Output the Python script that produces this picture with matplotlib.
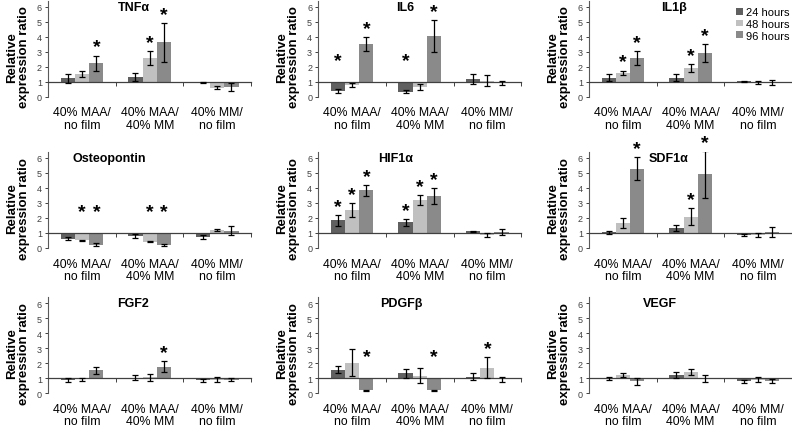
import matplotlib
matplotlib.use("Agg")
import matplotlib.pyplot as plt
import matplotlib.transforms as mtransforms
import numpy as np

plt.rcParams['font.family'] = ['Liberation Sans', 'DejaVu Sans']

groups = ["40% MAA/\nno film", "40% MAA/\n40% MM", "40% MM/\nno film"]
times = ["24 hours", "48 hours", "96 hours"]
colors = ["#606060", "#c0c0c0", "#8a8a8a"]

# rows = 24h, 48h, 96h ; columns = the three groups
tnfa_mean = [[1.24, 1.33, 0.95], [1.50, 2.58, 0.60], [2.25, 3.64, 0.65]]
tnfa_err = [[0.30, 0.27, 0.05], [0.20, 0.47, 0.10], [0.50, 1.30, 0.25]]
tnfa_star = [[0, 0, 0], [0, 1, 0], [1, 1, 0]]

il6_mean = [[0.40, 0.33, 1.20], [0.77, 0.66, 1.08], [3.51, 4.06, 0.92]]
il6_err = [[0.13, 0.10, 0.32], [0.15, 0.22, 0.36], [0.45, 1.08, 0.15]]
il6_star = [[1, 1, 0], [0, 0, 0], [1, 1, 0]]

il1b_mean = [[1.27, 1.27, 1.03], [1.60, 1.93, 0.93], [2.60, 2.93, 0.95]]
il1b_err = [[0.22, 0.22, 0.05], [0.15, 0.27, 0.10], [0.47, 0.60, 0.15]]
il1b_star = [[0, 0, 0], [1, 1, 0], [1, 1, 0]]

opn_mean = [[0.60, 0.78, 0.75], [0.52, 0.42, 1.20], [0.22, 0.20, 1.15]]
opn_err = [[0.10, 0.15, 0.13], [0.03, 0.03, 0.05], [0.08, 0.06, 0.28]]
opn_star = [[0, 0, 0], [1, 1, 0], [1, 1, 0]]

hif1a_mean = [[1.85, 1.70, 1.10], [2.52, 3.18, 0.85], [3.83, 3.46, 1.07]]
hif1a_err = [[0.37, 0.25, 0.05], [0.47, 0.35, 0.12], [0.38, 0.55, 0.18]]
hif1a_star = [[1, 1, 0], [1, 1, 0], [1, 1, 0]]

sdf1a_mean = [[1.03, 1.30, 0.87], [1.68, 2.09, 0.87], [5.28, 4.91, 1.05]]
sdf1a_err = [[0.12, 0.20, 0.08], [0.32, 0.55, 0.12], [0.78, 1.55, 0.35]]
sdf1a_star = [[0, 0, 0], [0, 1, 0], [1, 1, 0]]

fgf2_mean = [[0.85, 1.03, 0.87], [0.93, 1.05, 0.90], [1.52, 1.76, 0.90]]
fgf2_err = [[0.13, 0.17, 0.10], [0.10, 0.25, 0.15], [0.25, 0.37, 0.12]]
fgf2_star = [[0, 0, 0], [0, 0, 0], [0, 1, 0]]

pdgfb_mean = [[1.56, 1.32, 1.10], [2.03, 1.15, 1.70], [0.20, 0.20, 0.92]]
pdgfb_err = [[0.25, 0.30, 0.25], [0.88, 0.50, 0.68], [0.03, 0.03, 0.15]]
pdgfb_star = [[0, 0, 0], [0, 0, 1], [1, 1, 0]]

vegf_mean = [[0.97, 1.18, 0.80], [1.20, 1.40, 0.90], [0.78, 0.97, 0.82]]
vegf_err = [[0.08, 0.20, 0.10], [0.15, 0.22, 0.15], [0.25, 0.25, 0.13]]
vegf_star = [[0, 0, 0], [0, 0, 0], [0, 0, 0]]

panels = [
    ("TNFα", tnfa_mean, tnfa_err, tnfa_star),
    ("IL6", il6_mean, il6_err, il6_star),
    ("IL1β", il1b_mean, il1b_err, il1b_star),
    ("Osteopontin", opn_mean, opn_err, opn_star),
    ("HIF1α", hif1a_mean, hif1a_err, hif1a_star),
    ("SDF1α", sdf1a_mean, sdf1a_err, sdf1a_star),
    ("FGF2", fgf2_mean, fgf2_err, fgf2_star),
    ("PDGFβ", pdgfb_mean, pdgfb_err, pdgfb_star),
    ("VEGF", vegf_mean, vegf_err, vegf_star),
]
title_x = [0.42, 0.43, 0.42, 0.30, 0.38, 0.39, 0.42, 0.41, 0.35]

fig = plt.figure(figsize=(7.92, 4.27), dpi=100)
lefts = [0.061, 0.402, 0.744]
bottoms = [0.771, 0.417, 0.077]
w, h = 0.256, 0.225

x = np.arange(len(groups))
bw = 0.21

for i, (name, mean, err, star) in enumerate(panels):
    ax = fig.add_axes([lefts[i % 3], bottoms[i // 3], w, h])
    for t in range(3):
        m = np.array(mean[t])
        e = np.array(err[t])
        xs = x + (t - 1) * bw
        ax.bar(xs, m - 1, bw, bottom=1, color=colors[t], label=times[t], zorder=2)
        ax.errorbar(xs, m, yerr=e, fmt='none', ecolor='black', elinewidth=0.9,
                    capsize=2, capthick=0.9, zorder=3)
        for g in range(3):
            if star[t][g]:
                ys = m[g] + e[g] if m[g] >= 1 else 1.85
                ax.annotate('*', (xs[g], ys), xytext=(0, 0), textcoords='offset points',
                            ha='center', va='bottom', fontsize=14, fontweight='bold',
                            annotation_clip=False)
    ax.set_xlim(-0.5, 2.5)
    ax.set_ylim(0, 6.4)
    ax.set_yticks(range(7))
    ax.tick_params(axis='y', labelsize=6.5, colors='#404040', length=2.5, width=0.7, pad=2)
    ax.spines['left'].set_color('#595959')
    ax.spines['left'].set_linewidth(0.8)
    ax.spines['top'].set_visible(False)
    ax.spines['right'].set_visible(False)
    ax.spines['bottom'].set_position(('data', 1))
    ax.spines['bottom'].set_color('#404040')
    ax.spines['bottom'].set_linewidth(0.9)
    ax.set_xticks([0.5, 1.5, 2.5])
    ax.set_xticklabels([])
    ax.tick_params(axis='x', length=3, width=0.7, colors='#404040')
    trans = mtransforms.blended_transform_factory(ax.transData, ax.transAxes)
    for g, lab in enumerate(groups):
        ax.text(g, -0.1, lab, transform=trans, ha='center', va='top', fontsize=8.8,
                linespacing=1.05)
    ax.text(title_x[i], 6.0, name, transform=ax.get_yaxis_transform(),
            ha='center', va='center', fontsize=9, fontweight='bold')
    ax.set_ylabel("Relative\nexpression ratio", fontsize=9.5, fontweight='bold',
                  linespacing=1.0)
    ax.yaxis.set_label_coords(-0.09, 0.42)
    if i == 2:
        ax.legend(loc='upper right', bbox_to_anchor=(1.02, 1.0), frameon=False,
                  fontsize=8, handlelength=0.55, handleheight=0.55, handletextpad=0.3,
                  labelspacing=0.15, borderpad=0.1)

fig.savefig("out.png", dpi=100)
